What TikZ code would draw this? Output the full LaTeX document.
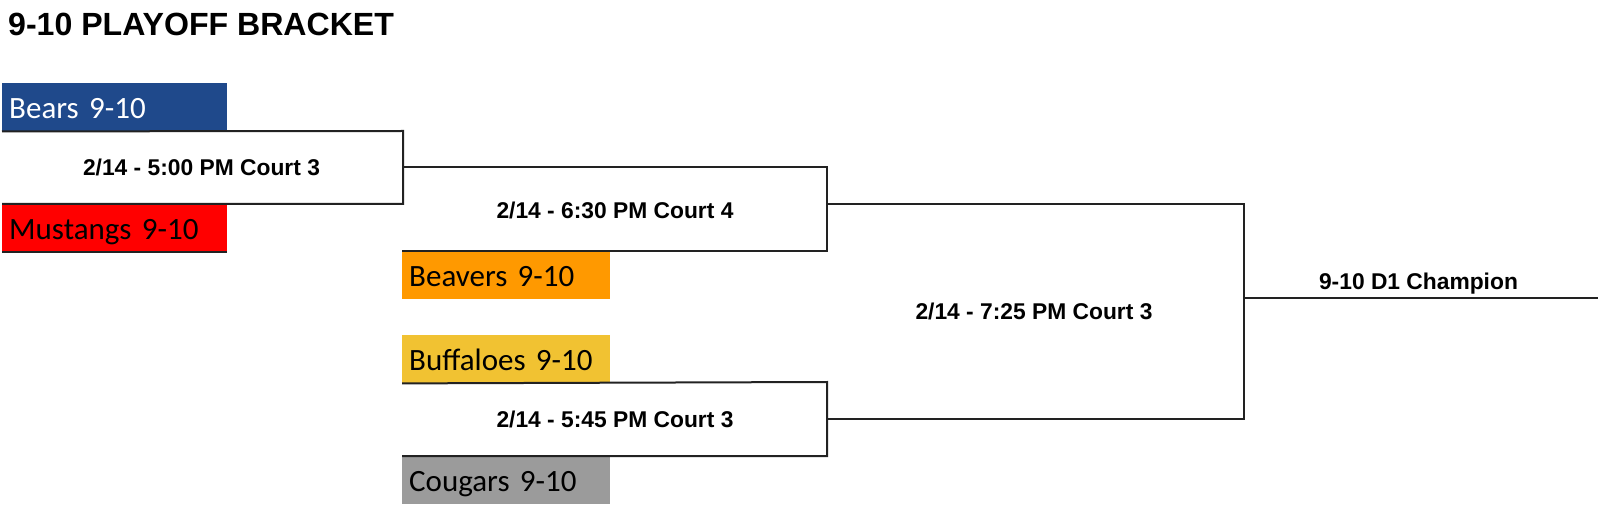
\documentclass[tikz,border=0pt]{standalone}
\usepackage{fontspec}
\setmainfont{Liberation Sans}
\newfontfamily\teamfont[WordSpace=0.85]{Carlito}
\definecolor{bearsblue}{RGB}{31,73,139}
\definecolor{mustred}{RGB}{255,0,0}
\definecolor{beavorange}{RGB}{255,153,0}
\definecolor{buffyellow}{RGB}{241,194,50}
\definecolor{cougray}{RGB}{155,155,155}
\definecolor{linegray}{RGB}{34,34,34}
\tikzset{
  teambox/.style={anchor=north west, inner xsep=7bp, inner ysep=0pt, minimum height=48bp,
    align=left, text height=24bp, text depth=2bp,
    font=\teamfont\fontsize{31bp}{36bp}\selectfont},
  widebox/.style={teambox, text width=211bp},
  narrowbox/.style={teambox, text width=194bp},
  matchlabel/.style={anchor=base, inner sep=0pt, font=\bfseries\fontsize{22.8bp}{27bp}\selectfont},
  bracketline/.style={draw=linegray, line width=2bp, line join=miter},
}
\begin{document}
\begin{tikzpicture}[x=1bp,y=-1bp]
\useasboundingbox (0,0) rectangle (1600,505);
\fill[white] (0,0) rectangle (1600,505);
% title
\node[anchor=base west, inner sep=0pt, font=\bfseries\fontsize{32.1bp}{36bp}\selectfont] (title) at (8,36) {9-10 PLAYOFF BRACKET};
% teams
\node[widebox, fill=bearsblue, text=white] (bears) at (2,83) {Bears 9-10};
\node[widebox, fill=mustred] (mustangs) at (2,204) {Mustangs 9-10};
\node[narrowbox, fill=beavorange] (beavers) at (402,251) {Beavers 9-10};
\node[narrowbox, fill=buffyellow] (buffaloes) at (402,335) {Buffaloes 9-10};
\node[narrowbox, fill=cougray] (cougars) at (402,456) {Cougars 9-10};
% bracket coordinates
\coordinate (r1top) at (403,131);
\coordinate (r1mid) at (403,167.5);
\coordinate (r2top) at (827,167.5);
\coordinate (r2mid) at (827,204);
\coordinate (r3top) at (827,382);
\coordinate (r3mid) at (827,419);
\coordinate (f4top) at (1244,204);
\coordinate (f4mid) at (1244,298);
\coordinate (champend) at (1598,298);
% brackets
\draw[bracketline] (bears.south west) -- (r1top) |- (mustangs.north west);
\draw[bracketline] (mustangs.south west) -- (mustangs.south east);
\draw[bracketline] (r1mid) -- (r2top) |- (beavers.north west);
\draw[bracketline] (buffaloes.south west) -- (r3top) |- (cougars.north west);
\draw[bracketline] (r2mid) -- (f4top) |- (r3mid);
\draw[bracketline] (f4mid) -- (champend);
% match labels
\node[matchlabel] (m1) at (201.5,176) {2/14 - 5:00 PM Court 3};
\node[matchlabel] (m2) at (615,218.3) {2/14 - 6:30 PM Court 4};
\node[matchlabel] (m3) at (615,427.7) {2/14 - 5:45 PM Court 3};
\node[matchlabel] (m4) at (1034,319.3) {2/14 - 7:25 PM Court 3};
\node[matchlabel] (champ) at (1418.5,290) {9-10 D1 Champion};
\end{tikzpicture}
\end{document}
